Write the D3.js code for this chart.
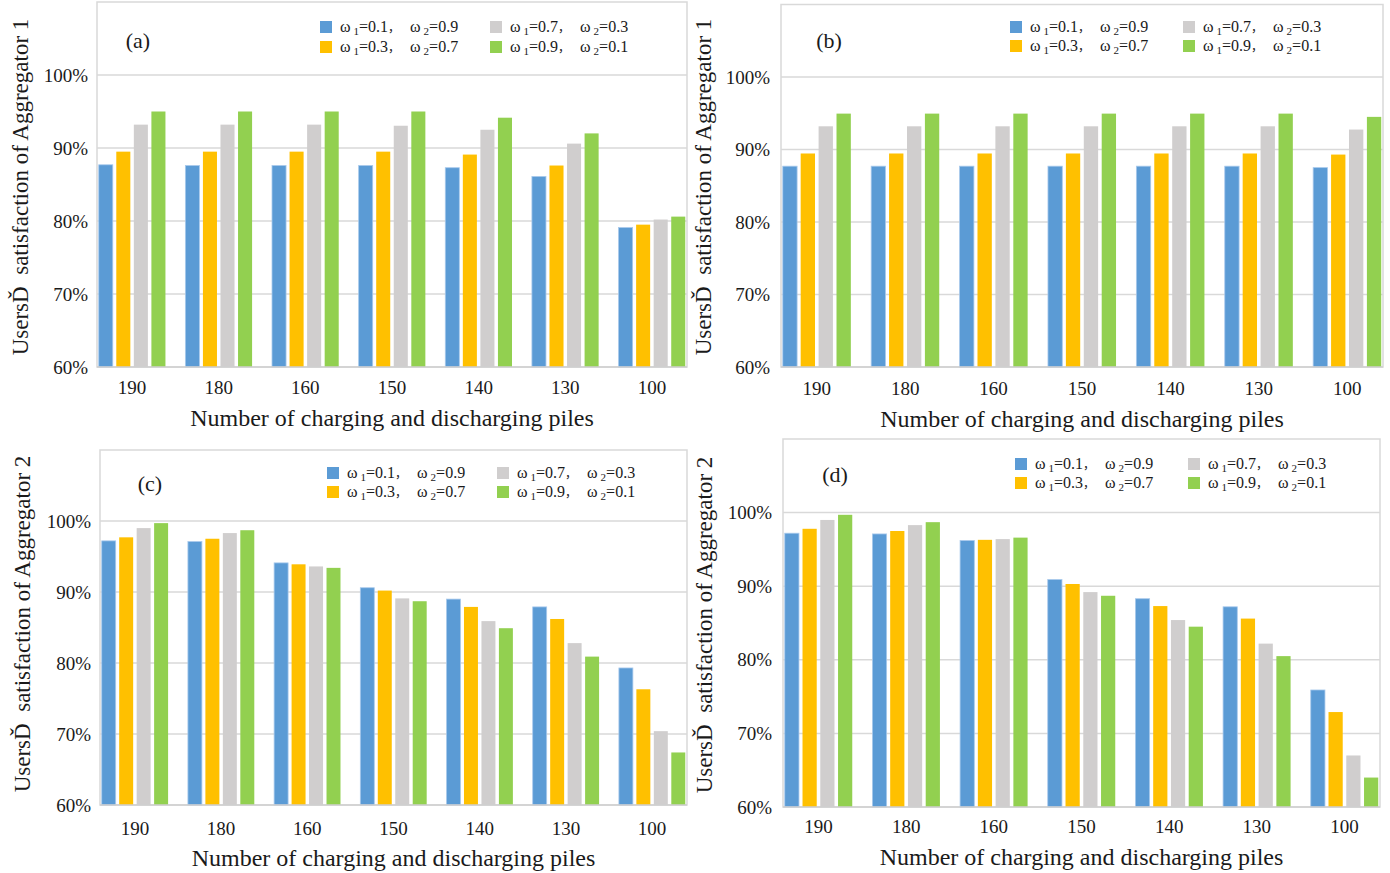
<!DOCTYPE html>
<html><head><meta charset="utf-8">
<script src="https://cdn.jsdelivr.net/npm/d3@7"></script>
<style>
body{margin:0;background:#fff}
svg{display:block}
text{font-family:"Liberation Serif","Times New Roman",serif;fill:#1a1a1a}
</style>
</head><body>
<svg id="c" width="1390" height="873"></svg>
<script>
// ---------- data ----------
const categories = ["190","180","160","150","140","130","100"];
const omega1 = ["0.1","0.3","0.7","0.9"];
const omega2 = ["0.9","0.7","0.3","0.1"];
const yTicks = [60,70,80,90,100];
const panelTags = ["(a)","(b)","(c)","(d)"];
const yTitles = ["UsersĎ\u00a0 satisfaction of Aggregator 1","UsersĎ\u00a0 satisfaction of Aggregator 1",
                 "UsersĎ\u00a0 satisfaction of Aggregator 2","UsersĎ\u00a0 satisfaction of Aggregator 2"];
const xTitle = "Number of charging and discharging piles";

// panel (a)
const a_w01 = [87.7, 87.6, 87.6, 87.6, 87.3, 86.1, 79.1];
const a_w03 = [89.5, 89.5, 89.5, 89.5, 89.1, 87.6, 79.5];
const a_w07 = [93.2, 93.2, 93.2, 93.05, 92.5, 90.6, 80.2];
const a_w09 = [95.0, 95.0, 95.0, 95.0, 94.15, 92.0, 80.6];
// panel (b)
const b_w01 = [87.7, 87.7, 87.7, 87.7, 87.7, 87.7, 87.5];
const b_w03 = [89.45, 89.45, 89.45, 89.45, 89.45, 89.45, 89.3];
const b_w07 = [93.2, 93.2, 93.2, 93.2, 93.2, 93.2, 92.75];
const b_w09 = [94.95, 94.95, 94.95, 94.95, 94.95, 94.95, 94.5];
// panel (c)
const c_w01 = [97.2, 97.1, 94.1, 90.6, 89.0, 87.9, 79.3];
const c_w03 = [97.7, 97.5, 93.9, 90.2, 87.9, 86.2, 76.3];
const c_w07 = [99.0, 98.3, 93.6, 89.1, 85.9, 82.8, 70.4];
const c_w09 = [99.7, 98.7, 93.4, 88.7, 84.9, 80.9, 67.4];
// panel (d)
const d_w01 = [97.2, 97.1, 96.2, 90.9, 88.3, 87.2, 75.9];
const d_w03 = [97.8, 97.5, 96.3, 90.3, 87.3, 85.6, 72.9];
const d_w07 = [99.0, 98.3, 96.4, 89.2, 85.4, 82.2, 67.0];
const d_w09 = [99.7, 98.7, 96.6, 88.7, 84.5, 80.5, 64.0];

const colors = ["#5B9BD5","#FFC000","#D0CECE","#92D050"];

// ---------- layout ----------
const panels = [
  {series:[a_w01,a_w03,a_w07,a_w09], x0:97,  x1:687,  top:2,   bot:367, tick:394, xt:426, yt:[20,187],  tag:[138,48],  leg:[320,490,27,47]},
  {series:[b_w01,b_w03,b_w07,b_w09], x0:781, x1:1383, top:4.5, bot:367, tick:395, xt:427, yt:[703,187], tag:[829,48],  leg:[1010,1183,27,46]},
  {series:[c_w01,c_w03,c_w07,c_w09], x0:100, x1:687,  top:450, bot:805, tick:835, xt:866, yt:[22,624],  tag:[150,491], leg:[327,497,473,492]},
  {series:[d_w01,d_w03,d_w07,d_w09], x0:783, x1:1380, top:439, bot:807, tick:833, xt:865, yt:[704,625], tag:[835,482], leg:[1015,1188,464,483]}
];

const svg = d3.select("#c");
const gridColor = "#d9d9d9";

panels.forEach((p, pi) => {
  const g = svg.append("g");
  const x = d3.scaleBand().domain(categories).range([p.x0, p.x1]).paddingInner(0.23).paddingOuter(0.02);
  const xs = d3.scaleBand().domain(d3.range(4)).range([0, x.bandwidth()]).paddingInner(0.2);
  const y = d3.scaleLinear().domain([60,110]).range([p.bot, p.top]);

  g.append("g").selectAll("line").data(yTicks.slice(1)).join("line")
    .attr("x1", p.x0).attr("x2", p.x1).attr("y1", d => y(d)).attr("y2", d => y(d))
    .attr("stroke", gridColor).attr("stroke-width", 1.5);
  g.append("rect").attr("x", p.x0).attr("y", y(110)).attr("width", p.x1 - p.x0).attr("height", y(60) - y(110))
    .attr("fill", "none").attr("stroke", gridColor).attr("stroke-width", 1.5);

  p.series.forEach((vals, si) => {
    g.append("g").selectAll("rect").data(vals).join("rect")
      .attr("x", (d, i) => x(categories[i]) + xs(si))
      .attr("width", xs.bandwidth())
      .attr("y", d => y(d))
      .attr("height", d => y(60) - y(d))
      .attr("fill", colors[si])
      .attr("stroke", si === 0 ? "#a8c9ec" : "none").attr("stroke-width", si === 0 ? 0.8 : 0);
  });

  g.append("line").attr("x1", p.x0).attr("x2", p.x1).attr("y1", y(60)).attr("y2", y(60))
    .attr("stroke", "#cfcfcf").attr("stroke-width", 1.5);

  const yAxis = d3.axisLeft(y).tickValues(yTicks).tickFormat(d => d + "%").tickSize(0).tickPadding(pi % 2 === 0 ? 9 : 11);
  const ya = g.append("g").attr("transform", `translate(${p.x0},0)`).call(yAxis);
  ya.select(".domain").remove();
  ya.selectAll("text").style("font-family", "Liberation Serif").style("font-size", "19px").attr("fill", "#1a1a1a");

  const xAxis = d3.axisBottom(x).tickSize(0).tickPadding(0);
  const xa = g.append("g").attr("transform", `translate(0,${p.tick})`).call(xAxis);
  xa.select(".domain").remove();
  xa.selectAll("text").attr("dy", 0).attr("y", 0).style("font-family", "Liberation Serif").style("font-size", "19px").attr("fill", "#1a1a1a");

  g.append("text").attr("x", (p.x0 + p.x1) / 2).attr("y", p.xt).attr("text-anchor", "middle")
    .style("font-size", "24px").text(xTitle);
  g.append("text").attr("transform", `translate(${p.yt[0]},${p.yt[1]}) rotate(-90)`).attr("text-anchor", "middle")
    .attr("dy", "0.35em").style("font-size", "23px").text(yTitles[pi]);
  g.append("text").attr("x", p.tag[0]).attr("y", p.tag[1]).attr("text-anchor", "middle")
    .style("font-size", "22px").text(panelTags[pi]);

  d3.range(4).forEach(si => {
    const col = Math.floor(si / 2), row = si % 2;
    const lx = p.leg[col], ly = p.leg[2 + row];
    g.append("rect").attr("x", lx).attr("y", ly - 6).attr("width", 12).attr("height", 12).attr("fill", colors[si]);
    const t = g.append("text").attr("x", lx + 20).attr("y", ly + 5).style("font-size", "16px");
    t.append("tspan").text("ω");
    t.append("tspan").attr("dx", 3).attr("dy", 3).style("font-size", "11px").text("1");
    t.append("tspan").attr("dy", -3).text("=" + omega1[si]);
    t.append("tspan").style("font-family", "Noto Sans CJK SC").style("font-size", "12px").text("，");
    t.append("tspan").attr("dx", 10).text("ω");
    t.append("tspan").attr("dx", 3).attr("dy", 3).style("font-size", "11px").text("2");
    t.append("tspan").attr("dy", -3).text("=" + omega2[si]);
  });
});
</script>
</body></html>
